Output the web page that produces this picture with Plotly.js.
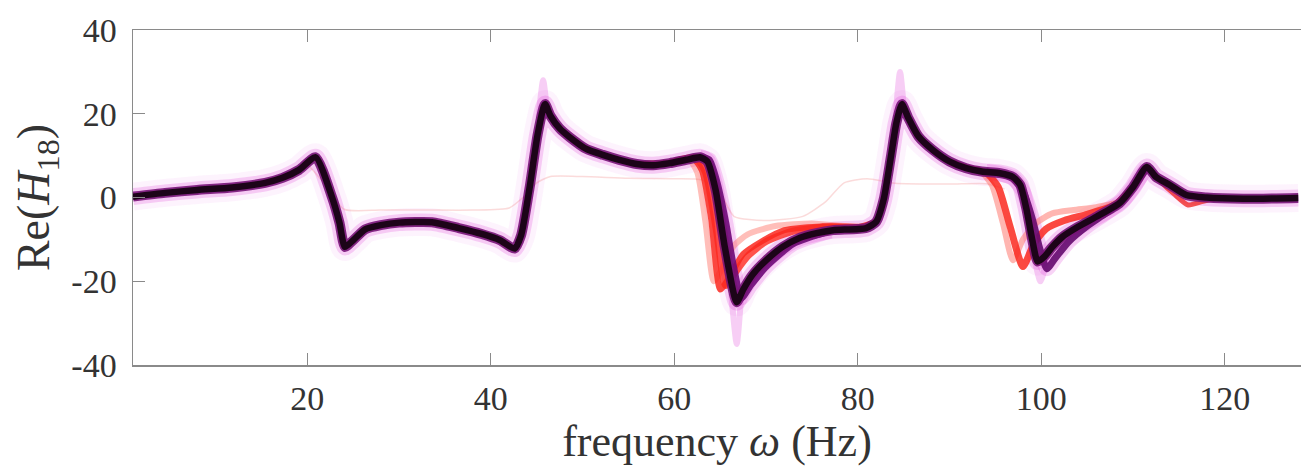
<!DOCTYPE html>
<html>
<head>
<meta charset="utf-8">
<script src="https://cdn.plot.ly/plotly-3.0.1.min.js"></script>
<style>html,body{margin:0;padding:0;background:#fff;}#chart{width:1301px;height:470px;}</style>
</head>
<body>
<div id="chart"></div>
<script>
// ---- data ----
const xTicks = [20, 40, 60, 80, 100, 120];
const yTicks = [-40, -20, 0, 20, 40];

// main (dark) response
const mainFreq = [1, 4.5, 8, 11.8, 15.4, 17.3, 19.1, 20.9, 22.7, 23.5, 24.1, 25, 26.3, 28, 30, 33.6, 36.5, 39, 41, 42.6, 43.3, 44.2, 45.1, 45.9, 46.5, 47.5, 48.6, 50.4, 52.2, 54, 55.9, 57.7, 59.5, 61.3, 62.8, 63.6, 64.5, 65.5, 66.8, 67.5, 68.5, 70, 71.8, 73.7, 75.5, 77.3, 80.9, 82, 82.8, 83.6, 84.2, 84.8, 85.5, 86.6, 88.2, 90, 91.8, 93.5, 95.5, 96.9, 97.7, 98.4, 99, 99.6, 100.3, 101.2, 102.3, 104, 106, 108.5, 110, 111.5, 112.5, 114, 115.8, 118, 122, 128];
const mainVals = [0.2, 1.1, 1.8, 2.4, 3.5, 4.7, 6.6, 9.6, 0, -6, -11.8, -10.2, -7.6, -6.6, -6, -5.9, -7.3, -8.7, -10.2, -12.2, -9, 2, 15, 22.3, 19.5, 16.5, 14.4, 11.6, 10.2, 9, 8, 7.7, 8.2, 9, 9.6, 8.6, 1.8, -11.8, -25, -22, -18.5, -15, -11.8, -9.6, -8.5, -7.8, -7.3, -5.8, -0.6, 9.7, 17.8, 22.3, 19, 14.6, 11.3, 8.6, 7, 6.2, 5.8, 4.9, 3, -3, -10, -15.3, -14.2, -11.8, -9.4, -7, -4.6, -1.4, 2.5, 7.3, 4.9, 3, 0.6, 0, -0.3, -0.1];

// red (shifted) responses near the 65 Hz and 97 Hz modes
const redAFreq = [55.9, 59.5, 61.5, 62.5, 63.4, 64.3, 65.2, 66.5, 68, 71, 75, 80, 82];
const redAVals = [8, 8.4, 9.3, 6, -6, -20, -17, -11.5, -8.8, -6.8, -6.2, -7, -5.8];
const redBFreq = [55.9, 59.5, 62, 63, 64, 65, 66, 67.5, 69.5, 72, 76, 80, 82];
const redBVals = [8, 8.3, 9.4, 6.5, -5, -22, -19, -13.5, -10.5, -7.8, -6.9, -7.1, -5.8];
const redFFreq = [59.5, 62.3, 63.4, 64.6, 65.6, 66.6, 68, 70, 73, 77, 81];
const redFVals = [8.3, 9.5, 6, -8, -21, -18, -14, -10.5, -8, -7, -7.2];
const redCFreq = [90, 92, 93.5, 94.6, 95.8, 96.9, 98, 99.5, 101.2, 103.5, 106, 108.5, 110, 111.5];
const redCVals = [8.5, 7, 6, 3, -6, -15, -10, -6, -3.8, -3, -2.3, -1, 2.6, 7.2];
const redDFreq = [90, 92, 94, 95.3, 96.6, 98, 99.2, 100.5, 102.5, 105, 108, 110, 111.5];
const redDVals = [8.5, 7, 5.9, 2.5, -7, -16.5, -11, -7.5, -5.5, -4, -1.8, 2.5, 7.2];
const redEFreq = [111.5, 113, 114.5, 116, 117.5, 119];
const redEVals = [7.2, 3.8, 0.8, -1.8, -1, -0.2];

// purple responses
const purAFreq = [94, 95.5, 97, 98, 99, 99.8, 100.6, 101.5, 103, 105, 107, 109, 111.5];
const purAVals = [6.2, 5.7, 4.5, 1.5, -5, -12, -17, -14.5, -10.5, -6.8, -3.8, -0.5, 7.2];
const purBFreq = [62.8, 63.8, 64.6, 65.6, 66.4, 67.3, 68.3, 70, 73, 77];
const purBVals = [9.6, 9, 4, -6, -16, -24, -21, -16.5, -11, -8];

// faint outlier response (missing modes)
const outFreq = [20, 22, 24, 28, 33, 38, 42, 43.5, 45, 46.5, 50, 55, 60, 63, 65, 66.5, 70, 74, 76.5, 78.5, 81, 84, 90, 94, 96];
const outVals = [8, 3, -2.8, -3, -3, -3, -2.5, 0, 3.5, 5, 5, 4.6, 4.5, 4.2, 1, -4.5, -5.5, -4.5, -1, 3.5, 4.5, 3.4, 3.2, 3.3, 2];

// faint scatter tips at resonance peaks
const tipAFreq = [45.2, 45.7, 46.2];
const tipAVals = [19, 28, 19];
const tipBFreq = [84.1, 84.6, 85.1];
const tipBVals = [19, 30, 19];
const tipCFreq = [66.2, 66.8, 67.3];
const tipCVals = [-23, -35, -23];
const tipDFreq = [99.2, 99.9, 100.6];
const tipDVals = [-14, -20, -15];

// ---- traces ----
function line(x, y, color, width) {
  return {x: x, y: y, type: 'scatter', mode: 'lines', hoverinfo: 'skip',
          line: {color: color, width: width, shape: 'spline', smoothing: 0.6}};
}
const traces = [
  line(mainFreq, mainVals, 'rgba(235,120,230,0.09)', 28),
  line(mainFreq, mainVals, 'rgba(225,60,215,0.22)', 17),
  line(purBFreq, purBVals, 'rgba(225,60,215,0.22)', 15),
  line(purAFreq, purAVals, 'rgba(225,60,215,0.22)', 15),
  line(tipAFreq, tipAVals, 'rgba(225,60,215,0.25)', 6),
  line(tipBFreq, tipBVals, 'rgba(225,60,215,0.25)', 6),
  line(tipCFreq, tipCVals, 'rgba(225,60,215,0.25)', 6),
  line(tipDFreq, tipDVals, 'rgba(225,60,215,0.25)', 6),
  line(outFreq, outVals, 'rgba(240,110,110,0.25)', 1.5),
  line(redAFreq, redAVals, 'rgba(255,110,100,0.45)', 6),
  line(redFFreq, redFVals, 'rgba(255,40,30,0.8)', 7),
  line(redBFreq, redBVals, 'rgba(250,40,30,0.85)', 6),
  line(redCFreq, redCVals, 'rgba(255,110,100,0.5)', 6),
  line(redDFreq, redDVals, 'rgba(250,40,30,0.85)', 7),
  line(redEFreq, redEVals, 'rgba(240,40,40,0.8)', 5),
  line(purBFreq, purBVals, 'rgba(110,10,120,0.9)', 7),
  line(purAFreq, purAVals, 'rgba(100,10,110,0.9)', 7),
  line(mainFreq, mainVals, 'rgba(120,20,120,0.9)', 10),
  line(mainFreq, mainVals, '#1c0418', 6.5)
];

const fontFam = '"Liberation Serif", "DejaVu Serif", serif';
const layout = {
  width: 1301, height: 470,
  margin: {l: 133, r: 0, t: 30, b: 105},
  paper_bgcolor: '#ffffff', plot_bgcolor: '#ffffff',
  showlegend: false,
  font: {family: fontFam, color: '#333333', size: 34},
  xaxis: {
    range: [1, 128.3], tickvals: xTicks, ticktext: xTicks.map(String),
    ticks: 'inside', ticklen: 12, tickcolor: '#8a8a8a', tickwidth: 1.2,
    showline: true, linecolor: '#8a8a8a', linewidth: 1.5, mirror: 'ticks',
    showgrid: false, zeroline: false, automargin: false,
    tickfont: {family: fontFam, size: 34, color: '#333333'},
    ticklabelstandoff: 3,
    title: {text: 'frequency <i>ω</i> (Hz)', font: {family: fontFam, size: 44, color: '#333333'}, standoff: 4}
  },
  yaxis: {
    range: [-40, 40], tickvals: yTicks, ticktext: yTicks.map(String),
    ticks: 'inside', ticklen: 12, tickcolor: '#8a8a8a', tickwidth: 1.2,
    showline: true, linecolor: '#8a8a8a', linewidth: 1.5, mirror: false,
    showgrid: false, zeroline: false, automargin: false,
    tickfont: {family: fontFam, size: 34, color: '#333333'},
    ticklabelstandoff: 8,
    title: {text: 'Re(<i>H</i><sub>18</sub>)', font: {family: fontFam, size: 46, color: '#333333'}, standoff: 7}
  }
};
Plotly.newPlot('chart', traces, layout, {staticPlot: true, displayModeBar: false});
</script>
</body>
</html>
